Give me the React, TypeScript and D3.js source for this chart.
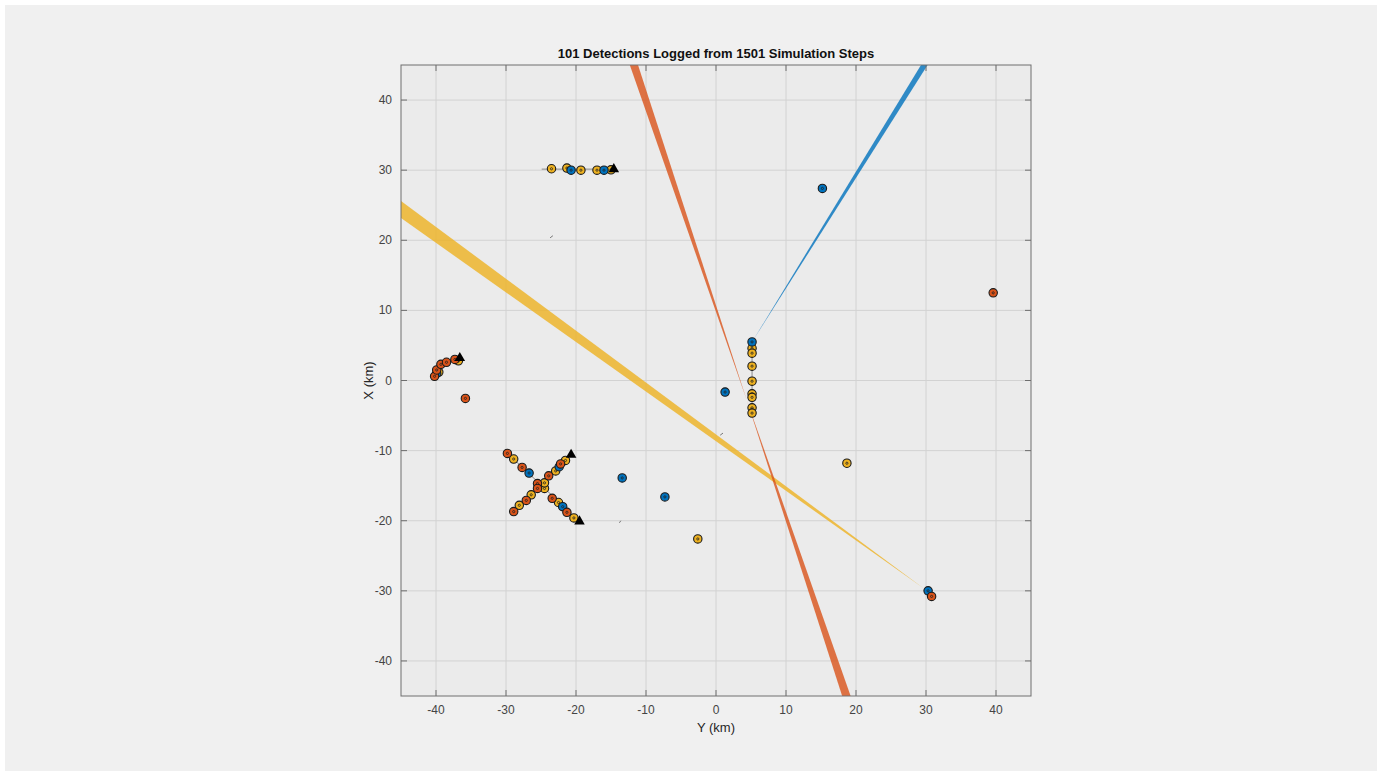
import React from "react";
import * as d3 from "d3";

const W = 1382;
const H = 776;

// axis ticks (km)
const tickValues = [-40, -30, -20, -10, 0, 10, 20, 30, 40];
const axisDomain: [number, number] = [-45, 45];

const titleText = "101 Detections Logged from 1501 Simulation Steps";
const xLabelText = "Y (km)";
const yLabelText = "X (km)";

// detections as [Y, X] in km
const blueDets: [number, number][] = [
  [-20.7, 30.0], [-16.0, 30.0], [-39.9, 1.0], [-26.7, -13.2], [-21.9, -18.0],
  [-22.4, -12.3], [5.15, 5.5], [15.2, 27.4], [1.3, -1.65], [-13.4, -13.9],
  [-7.3, -16.6], [30.3, -30.0],
];
const orangeDets: [number, number][] = [
  [-40.2, 0.6], [-39.9, 1.5], [-39.3, 2.3], [-38.5, 2.6], [-37.3, 3.0],
  [-35.8, -2.55], [-29.8, -10.4], [-27.7, -12.4], [-25.5, -14.7], [-25.5, -15.4],
  [-23.4, -16.8], [-21.3, -18.8], [-28.9, -18.7], [-27.1, -17.1], [-23.9, -13.6],
  [-22.2, -11.9], [39.6, 12.5], [30.8, -30.8],
];
const yellowDets: [number, number][] = [
  [-23.5, 30.2], [-21.3, 30.3], [-19.3, 30.0], [-17.0, 30.0], [-15.0, 30.05],
  [-36.8, 2.8], [-39.6, 1.2], [-28.9, -11.2], [-24.5, -15.4], [-24.5, -14.6],
  [-22.5, -17.4], [-20.3, -19.6], [-28.1, -17.8], [-26.4, -16.3], [-22.9, -12.9],
  [-21.5, -11.4], [5.15, 4.6], [5.15, 3.9], [5.15, 2.05], [5.15, -0.1],
  [5.15, -1.9], [5.15, -2.4], [5.15, -3.9], [5.15, -4.65], [18.7, -11.8],
  [-2.6, -22.6],
];

// platform trajectories [Y, X]
const trajTop: [number, number][] = [[-24.9, 30.15], [-14.6, 30.15]];
const trajVert: [number, number][] = [[5.15, 5.5], [5.15, -4.7]];
const trajX1: [number, number][] = [[-30.2, -10.0], [-19.5, -20.1]];
const trajX2: [number, number][] = [[-29.2, -19.0], [-20.7, -10.6]];
const trajArc: [number, number][] = [[-40.4, 0.2], [-40.1, 1.2], [-39.4, 2.2], [-38.4, 2.8], [-37.2, 3.1], [-36.6, 3.0]];
const platformEnds: [number, number][] = [[-14.6, 30.15], [-36.6, 3.2], [-19.5, -20.1], [-20.7, -10.6]];

// tiny track stubs [Y1, X1, Y2, X2]
const stubs: [number, number, number, number][] = [
  [-23.7, 20.35, -23.3, 20.65],
  [0.6, -7.8, 1.0, -7.5],
  [-13.8, -20.3, -13.6, -20.0],
];

// sensor beams: apex [Y, X], end [Y, X], half-width at end (km)
const beamBlue = { apex: [5.15, 5.5], end: [31.0, 47.0], hw: 0.42 };
const beamYellow = { apex: [29.6, -29.6], end: [-50.0, 28.0], hw: 1.05 };
const beamOrangeUp = { apex: [4.4, -2.8], end: [-12.4, 47.0], hw: 0.58 };
const beamOrangeDown = { apex: [4.4, -2.8], end: [19.3, -47.0], hw: 0.6 };

const colBlue = "#0072BD";
const colOrange = "#D95319";
const colYellow = "#EDB120";

export default function App() {
  const left = 401, right = 1031, top = 65, bottom = 696;
  const sx = d3.scaleLinear().domain(axisDomain).range([left, right]);
  const sy = d3.scaleLinear().domain(axisDomain).range([bottom, top]);
  const line = d3.line<[number, number]>().x((d) => sx(d[0])).y((d) => sy(d[1]));
  const arcLine = d3.line<[number, number]>().x((d) => sx(d[0])).y((d) => sy(d[1])).curve(d3.curveCatmullRom);

  const wedge = (b: { apex: number[]; end: number[]; hw: number }) => {
    const dx = b.end[0] - b.apex[0];
    const dy = b.end[1] - b.apex[1];
    const L = Math.hypot(dx, dy);
    const nx = -dy / L, ny = dx / L;
    const pts: [number, number][] = [
      [b.apex[0], b.apex[1]],
      [b.end[0] + nx * b.hw, b.end[1] + ny * b.hw],
      [b.end[0] - nx * b.hw, b.end[1] - ny * b.hw],
    ];
    return line(pts) + "Z";
  };

  const tri = d3.symbol().type(d3.symbolTriangle).size(48)();

  const marker = (d: [number, number], fill: string, i: number) => (
    <g key={i} transform={`translate(${sx(d[0])},${sy(d[1])})`}>
      <circle r={4.2} fill={fill} stroke="#1a1a1a" strokeWidth={1.1} />
      <circle r={1.1} fill="none" stroke="#222" strokeWidth={0.8} />
    </g>
  );

  const axisColor = "#6e6e6e";
  const textColor = "#444";
  const font = "'Liberation Sans', Arial, Helvetica, sans-serif";

  return (
    <svg width={W} height={H} style={{ position: "absolute", left: 0, top: 0 }}>
      <rect x={0} y={0} width={W} height={H} fill="#ffffff" />
      <rect x={5} y={5} width={W - 10} height={H - 10} fill="#f0f0f0" />
      <defs>
        <clipPath id="plotClip">
          <rect x={left} y={top} width={right - left} height={bottom - top} />
        </clipPath>
      </defs>
      <rect x={left} y={top} width={right - left} height={bottom - top} fill="#ebebeb" />
      {/* grid */}
      {tickValues.map((t) => (
        <g key={"g" + t}>
          <line x1={sx(t)} x2={sx(t)} y1={top} y2={bottom} stroke="#d2d2d2" strokeWidth={1} />
          <line x1={left} x2={right} y1={sy(t)} y2={sy(t)} stroke="#d2d2d2" strokeWidth={1} />
        </g>
      ))}
      <g clipPath="url(#plotClip)">
        <path d={wedge(beamYellow)} fill={colYellow} fillOpacity={0.8} />
        <path d={wedge(beamOrangeUp)} fill={colOrange} fillOpacity={0.8} />
        <path d={wedge(beamOrangeDown)} fill={colOrange} fillOpacity={0.8} />
        <path d={wedge(beamBlue)} fill={colBlue} fillOpacity={0.8} />
        {/* trajectories */}
        {[trajTop, trajVert, trajX1, trajX2].map((t, i) => (
          <path key={"t" + i} d={line(t) || ""} fill="none" stroke="#8a8a8a" strokeWidth={1} />
        ))}
        <path d={arcLine(trajArc) || ""} fill="none" stroke="#8a8a8a" strokeWidth={1} />
        {stubs.map((s, i) => (
          <line key={"s" + i} x1={sx(s[0])} y1={sy(s[1])} x2={sx(s[2])} y2={sy(s[3])} stroke="#777" strokeWidth={1} />
        ))}
        {yellowDets.map((d, i) => marker(d, colYellow, i))}
        {blueDets.map((d, i) => marker(d, colBlue, i + 100))}
        {orangeDets.map((d, i) => marker(d, colOrange, i + 200))}
        {platformEnds.map((d, i) => (
          <path key={"p" + i} d={tri || ""} transform={`translate(${sx(d[0])},${sy(d[1])})`} fill="#000" />
        ))}
      </g>
      {/* axes box */}
      <rect x={left} y={top} width={right - left} height={bottom - top} fill="none" stroke={axisColor} strokeWidth={1} />
      {tickValues.map((t) => (
        <g key={"k" + t}>
          <line x1={sx(t)} x2={sx(t)} y1={bottom} y2={bottom - 6} stroke={axisColor} />
          <line x1={sx(t)} x2={sx(t)} y1={top} y2={top + 6} stroke={axisColor} />
          <line x1={left} x2={left + 6} y1={sy(t)} y2={sy(t)} stroke={axisColor} />
          <line x1={right} x2={right - 6} y1={sy(t)} y2={sy(t)} stroke={axisColor} />
          <text x={sx(t)} y={bottom + 18} textAnchor="middle" fontFamily={font} fontSize={12} fill={textColor}>{t}</text>
          <text x={left - 9} y={sy(t) + 4} textAnchor="end" fontFamily={font} fontSize={12} fill={textColor}>{t}</text>
        </g>
      ))}
      <text x={(left + right) / 2} y={58} textAnchor="middle" fontFamily={font} fontWeight="bold" fontSize={13} fill="#111">{titleText}</text>
      <text x={(left + right) / 2} y={732} textAnchor="middle" fontFamily={font} fontSize={13} fill="#262626">{xLabelText}</text>
      <text transform={`translate(373,${(top + bottom) / 2}) rotate(-90)`} textAnchor="middle" fontFamily={font} fontSize={13} fill="#262626">{yLabelText}</text>
    </svg>
  );
}
